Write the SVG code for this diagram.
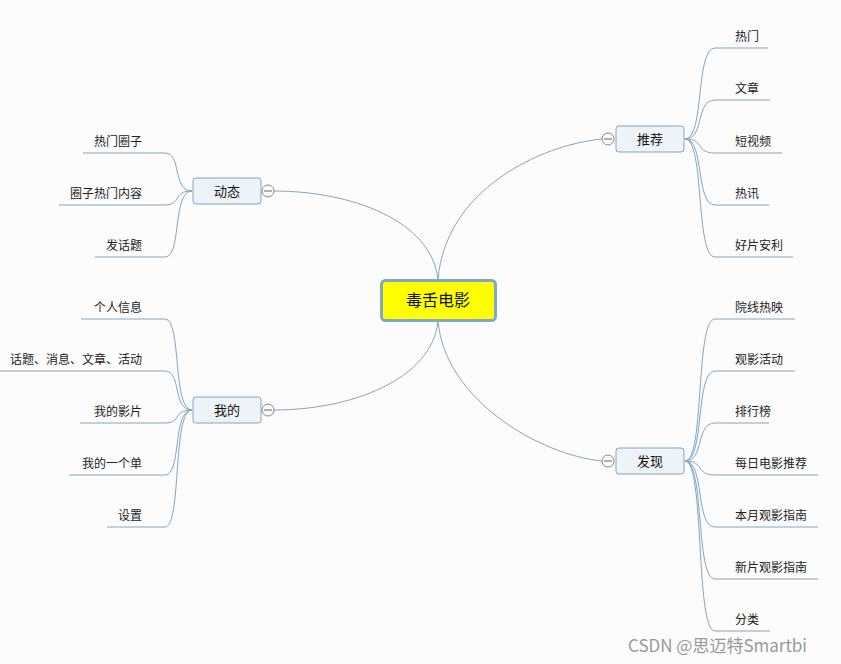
<svg xmlns="http://www.w3.org/2000/svg" width="841" height="664" viewBox="0 0 841 664">
<style>
.c{fill:none;stroke:#7ea6c6;stroke-width:1}
.t{font-family:"Microsoft YaHei","Noto Sans CJK SC",sans-serif;font-size:12px;fill:#222}
.b{fill:#eef3f8;stroke:#7ea6c6;stroke-width:1}
.bt{font-family:"Noto Sans CJK SC",sans-serif;font-size:13px;fill:#111;text-anchor:middle}
.o{fill:#fafafa;stroke:#888;stroke-width:1}
.r{text-anchor:end}
</style>
<rect width="841" height="664" fill="#fcfcfc"/>
<g id="connectors">
<path class="c" d="M438,280 C445,190 540,145 602,139"/>
<path class="c" d="M438,280 C432,220 350,191 274,191"/>
<path class="c" d="M438,321 C432,380 350,410 274,410"/>
<path class="c" d="M438,321 C445,400 540,455 602,461"/>
<path class="c" d="M685,139 C705,139 695,48 715,48 H768"/>
<path class="c" d="M685,139 C705,139 695,100 715,100 H770"/>
<path class="c" d="M685,139 C705,139 695,153 715,153 H782"/>
<path class="c" d="M685,139 C705,139 695,205 715,205 H769"/>
<path class="c" d="M685,139 C705,139 695,257 715,257 H793"/>
<path class="c" d="M192,191 C172,191 182,153 165,153 H83"/>
<path class="c" d="M192,191 C172,191 182,205 165,205 H59"/>
<path class="c" d="M192,191 C172,191 182,257 165,257 H95"/>
<path class="c" d="M192,410 C172,410 182,319 165,319 H81"/>
<path class="c" d="M192,410 C172,410 182,371 165,371 H0"/>
<path class="c" d="M192,410 C172,410 182,423 165,423 H80"/>
<path class="c" d="M192,410 C172,410 182,475 165,475 H69"/>
<path class="c" d="M192,410 C172,410 182,527 165,527 H107"/>
<path class="c" d="M685,461 C705,461 695,319 715,319 H795"/>
<path class="c" d="M685,461 C705,461 695,371 715,371 H795"/>
<path class="c" d="M685,461 C705,461 695,423 715,423 H769"/>
<path class="c" d="M685,461 C705,461 695,475 715,475 H818"/>
<path class="c" d="M685,461 C705,461 695,527 715,527 H818"/>
<path class="c" d="M685,461 C705,461 695,579 715,579 H818"/>
<path class="c" d="M685,461 C705,461 695,631 715,631 H770"/>
</g>
<g id="center">
<rect x="381.5" y="280.5" width="114" height="40" rx="4" fill="#ffff00" stroke="#7fa7c8" stroke-width="3"/>
<text x="438" y="306" class="bt" style="font-size:16px">毒舌电影</text>
</g>
<g id="n-tuijian"><rect class="b" x="616" y="126" width="68" height="26" rx="3"/><text class="bt" x="650" y="144">推荐</text><circle class="o" cx="608" cy="139" r="6"/><path d="M604,139H612" stroke="#666"/></g>
<g id="n-dongtai"><rect class="b" x="193" y="178" width="68" height="26" rx="3"/><text class="bt" x="227" y="196">动态</text><circle class="o" cx="268" cy="191" r="6"/><path d="M264,191H272" stroke="#666"/></g>
<g id="n-wode"><rect class="b" x="193" y="397" width="68" height="26" rx="3"/><text class="bt" x="227" y="415">我的</text><circle class="o" cx="268" cy="410" r="6"/><path d="M264,410H272" stroke="#666"/></g>
<g id="n-faxian"><rect class="b" x="616" y="448" width="68" height="26" rx="3"/><text class="bt" x="650" y="466">发现</text><circle class="o" cx="608" cy="461" r="6"/><path d="M604,461H612" stroke="#666"/></g>
<g id="leaves">
<text class="t" x="735" y="41">热门</text>
<text class="t" x="735" y="93">文章</text>
<text class="t" x="735" y="146">短视频</text>
<text class="t" x="735" y="198">热讯</text>
<text class="t" x="735" y="250">好片安利</text>
<text class="t r" x="142" y="146">热门圈子</text>
<text class="t r" x="142" y="198">圈子热门内容</text>
<text class="t r" x="142" y="250">发话题</text>
<text class="t r" x="142" y="312">个人信息</text>
<text class="t r" x="142" y="364">话题、消息、文章、活动</text>
<text class="t r" x="142" y="416">我的影片</text>
<text class="t r" x="142" y="468">我的一个单</text>
<text class="t r" x="142" y="520">设置</text>
<text class="t" x="735" y="312">院线热映</text>
<text class="t" x="735" y="364">观影活动</text>
<text class="t" x="735" y="416">排行榜</text>
<text class="t" x="735" y="468">每日电影推荐</text>
<text class="t" x="735" y="520">本月观影指南</text>
<text class="t" x="735" y="572">新片观影指南</text>
<text class="t" x="735" y="624">分类</text>
</g>
<text x="628" y="652" font-family="'Noto Sans CJK SC',sans-serif" font-size="17" fill="#999">CSDN @思迈特Smartbi</text>
</svg>
